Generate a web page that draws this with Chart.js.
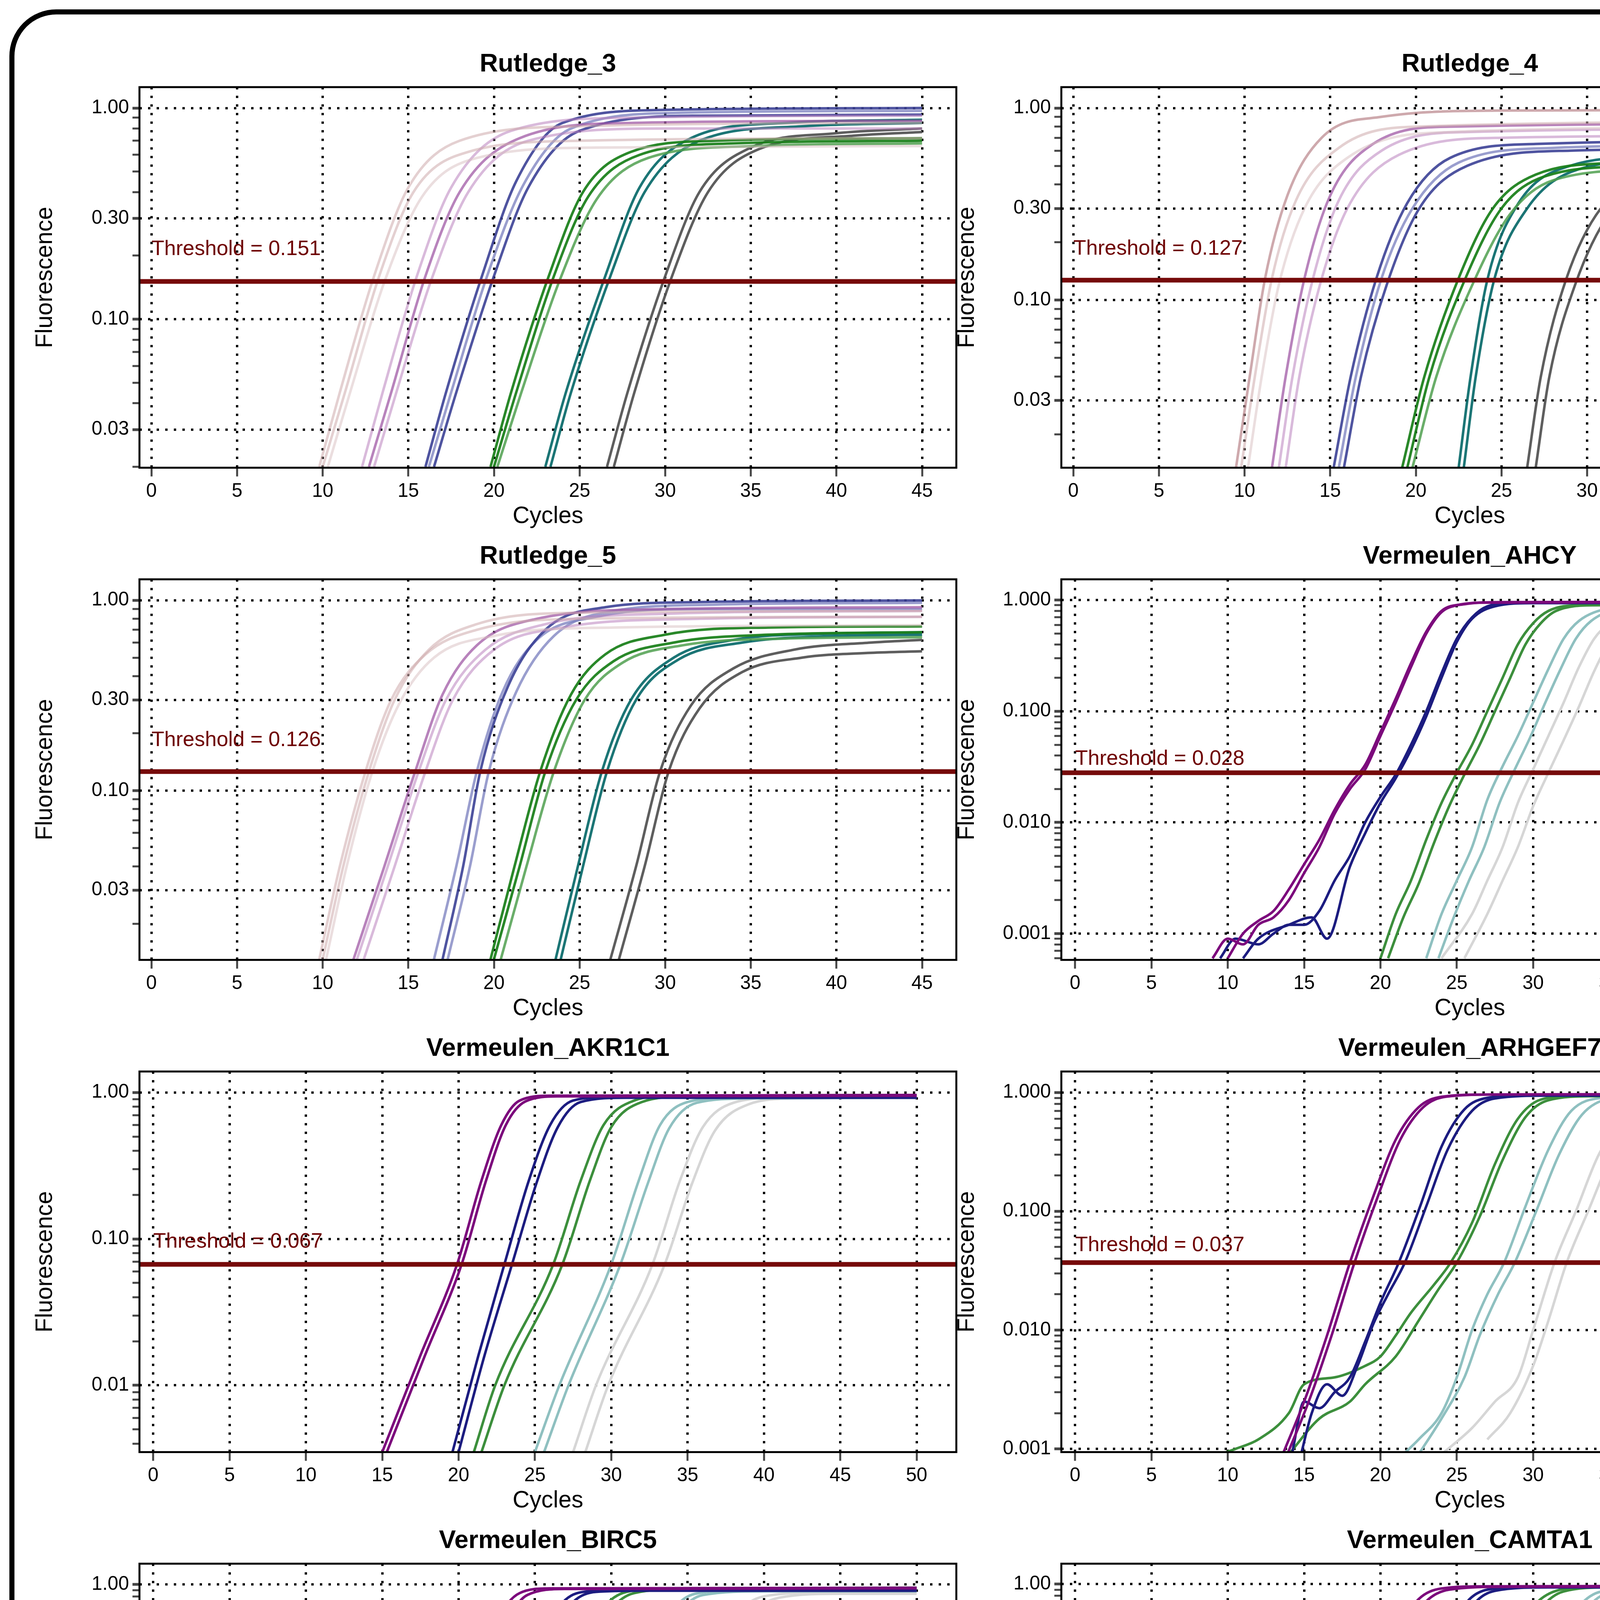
<!DOCTYPE html>
<html><head><meta charset="utf-8">
<script src="https://cdn.jsdelivr.net/npm/chart.js@4.4.1/dist/chart.umd.min.js"></script>
<style>
html,body{margin:0;padding:0;background:#fff;}
body{width:4960px;height:7016px;position:relative;overflow:hidden;}
#frame{position:absolute;left:24px;top:24px;width:4890px;height:6940px;border:13px solid #000;border-radius:120px;box-sizing:border-box;}
canvas{position:absolute;}
#rule{position:absolute;left:180px;top:6512px;width:4585px;height:10px;background:#000;}
#cap{position:absolute;left:182px;top:6548px;font-family:"DejaVu Sans",Verdana,sans-serif;font-size:70px;line-height:105px;white-space:nowrap;color:#000;}
</style></head><body>
<div id="frame"></div>
<div id="rule"></div>
<div id="cap"><b>Supplementary Fig 2 | Graphical representation of Dilution Curves (11-20).</b> Each box represents the<br>fluorescence data (y-axis) plotted against the cycle number (x-axis) with a horizontal line representing the<br>threshold value.</div>
<script>
// ---------------- DATA ----------------
const titles = ["Rutledge_3","Rutledge_4","Rutledge_5","Vermeulen_AHCY","Vermeulen_AKR1C1","Vermeulen_ARHGEF7","Vermeulen_BIRC5","Vermeulen_CAMTA1","Vermeulen_CAMTA2","Vermeulen_CD44"];
const thresholds = [0.151,0.127,0.126,0.028,0.067,0.037,0.04,0.037,0.043,0.077];
const thresholdLabels = ["0.151","0.127","0.126","0.028","0.067","0.037","0.04","0.037","0.043","0.077"];
const xMaxCycle = [45,45,45,50,50,50,50,50,50,50];
const xTickValues45 = [0,5,10,15,20,25,30,35,40,45];
const xTickValues50 = [0,5,10,15,20,25,30,35,40,45,50];
const yTickValues = [[1,0.3,0.1,0.03],[1,0.3,0.1,0.03],[1,0.3,0.1,0.03],[1,0.1,0.01,0.001],[1,0.1,0.01],[1,0.1,0.01,0.001],[1,0.1,0.01],[1,0.1,0.01],[1,0.1,0.01],[1,0.1,0.01]];
const yTickLabels = [["1.00","0.30","0.10","0.03"],["1.00","0.30","0.10","0.03"],["1.00","0.30","0.10","0.03"],["1.000","0.100","0.010","0.001"],["1.00","0.10","0.01"],["1.000","0.100","0.010","0.001"],["1.00","0.10","0.01"],["1.00","0.10","0.01"],["1.00","0.10","0.01"],["1.00","0.10","0.01"]];
const yMin = [0.0198,0.0134,0.0129,0.00058,0.0035,0.00094,0.00114,0.00101,0.00134,0.00458];
const yMax = [1.256,1.285,1.29,1.54,1.39,1.5,1.48,1.48,1.47,1.37];
// curves: [colourIndex, x,y,x,y,...]
const curvesR3 = [
 [0,[9.8,.02,11,.045,13,.16,15,.42,18,.7,25,.82,45,.85]],
 [0,[10,.02,11.3,.045,13.3,.16,15.3,.4,18.5,.62,25,.7,45,.72]],
 [1,[10.3,.02,11.6,.045,13.6,.15,15.8,.38,19,.58,26,.65,45,.66]],
 [2,[12.3,.02,13.5,.045,15.5,.16,17.5,.42,21,.78,28,.9,45,.92]],
 [3,[12.7,.02,14,.045,16,.16,18,.4,21.5,.72,28,.85,45,.87]],
 [2,[13,.02,14.3,.045,16.3,.15,18.5,.4,22,.7,30,.8,45,.8]],
 [4,[16,.02,17.2,.045,19.3,.16,21.3,.45,24,.85,30,.98,45,1.0]],
 [5,[16.2,.02,17.5,.045,19.6,.16,21.7,.43,24.5,.8,31,.95,45,.97]],
 [4,[16.5,.02,17.8,.045,20,.16,22,.42,25,.78,32,.92,45,.93]],
 [6,[19.8,.02,21,.045,23.2,.16,25.2,.4,28,.62,33,.7,45,.72]],
 [6,[20,.02,21.3,.045,23.5,.16,25.5,.38,28.5,.6,34,.68,45,.7]],
 [7,[20.2,.02,21.6,.045,23.8,.15,26,.37,29,.58,35,.66,45,.68]],
 [8,[23,.02,24.2,.045,26.5,.16,28.5,.42,31.5,.72,37,.85,45,.88]],
 [8,[23.3,.02,24.5,.045,26.8,.16,28.8,.4,32,.7,38,.82,45,.85]],
 [9,[26.6,.02,27.8,.045,30,.16,32,.4,35,.65,40,.76,45,.8]],
 [9,[27,.02,28.2,.045,30.4,.16,32.5,.4,35.5,.64,41,.74,45,.77]]
];
const curvesR4 = [
 [10,[9.5,.0134,10.3,.04,11.2,.13,12.5,.35,14.5,.7,18,.9,25,.97,45,.98]],
 [0,[9.8,.0134,10.6,.04,11.6,.13,13,.33,15.5,.62,20,.8,45,.85]],
 [1,[10.2,.0134,11,.04,12,.12,13.5,.3,16,.55,22,.75,45,.8]],
 [3,[11.6,.0134,12.4,.04,13.5,.13,15,.35,17.5,.65,22,.8,45,.83]],
 [2,[12,.0134,12.8,.04,14,.13,15.5,.33,18,.6,23,.75,45,.78]],
 [2,[12.4,.0134,13.2,.04,14.4,.12,16,.3,19,.57,25,.7,45,.72]],
 [4,[15.2,.0134,16.2,.04,17.7,.13,19.5,.32,22,.55,27,.65,45,.68]],
 [5,[15.5,.0134,16.5,.04,18,.13,19.8,.3,22.5,.52,28,.62,45,.65]],
 [4,[15.8,.0134,16.8,.04,18.3,.12,20.2,.3,23,.5,29,.6,45,.62]],
 [6,[19.2,.0134,20.5,.04,22.5,.13,24.5,.3,27,.45,32,.52,45,.55]],
 [6,[19.5,.0134,20.8,.04,22.9,.13,25,.3,27.5,.44,33,.5,45,.52]],
 [7,[19.8,.0134,21.2,.04,23.3,.12,25.5,.28,28,.42,34,.48,45,.5]],
 [8,[22.5,.0134,23.2,.04,24.2,.13,26,.32,29,.5,34,.56,45,.58]],
 [8,[22.8,.0134,23.5,.04,24.6,.13,26.5,.3,29.5,.48,35,.54,45,.56]],
 [9,[26.5,.0134,27.3,.04,28.8,.13,30.8,.3,33.5,.42,38,.48,45,.5]],
 [9,[27,.0134,27.8,.04,29.3,.12,31.3,.28,34,.4,39,.46,45,.48]]
];
const curvesR5 = [
 [0,[9.8,.013,11,.04,12.5,.126,14,.3,16,.52,19,.7,25,.8,45,.82]],
 [1,[10.2,.013,11.4,.04,12.9,.126,14.5,.29,16.5,.5,20,.65,27,.72,45,.74]],
 [0,[10,.013,11.2,.04,12.7,.126,14.2,.3,16.2,.55,19,.75,25,.86,45,.88]],
 [2,[12,.013,13.8,.04,15.6,.126,17.2,.3,19.5,.55,23,.75,30,.85,45,.88]],
 [2,[12.4,.013,14.2,.04,16,.126,17.6,.3,20,.55,24,.72,32,.8,45,.82]],
 [3,[11.8,.013,13.6,.04,15.4,.126,17,.32,19,.58,22.5,.8,30,.9,45,.92]],
 [4,[17,.013,18.2,.04,19.2,.126,20.8,.35,23,.7,26.5,.92,32,.98,45,1.0]],
 [5,[17.3,.013,18.6,.04,19.7,.126,21.3,.33,23.5,.65,27,.88,33,.95,45,.97]],
 [5,[16.5,.013,17.8,.04,19,.126,20.5,.33,22.5,.62,26,.82,32,.9,45,.9]],
 [6,[20,.013,21.5,.04,23,.126,24.8,.3,27,.48,30.5,.6,36,.66,45,.68]],
 [7,[20.4,.013,21.9,.04,23.5,.126,25.3,.3,27.5,.47,31,.58,37,.63,45,.64]],
 [6,[19.8,.013,21.2,.04,22.7,.126,24.5,.32,26.5,.52,30,.66,36,.72,45,.73]],
 [8,[23.6,.013,24.9,.04,26.3,.126,28,.3,30.5,.5,34,.62,40,.67,45,.68]],
 [8,[23.9,.013,25.2,.04,26.6,.126,28.3,.3,30.8,.49,34.5,.6,40,.65,45,.66]],
 [9,[26.8,.013,28.3,.04,29.7,.126,31.5,.28,34,.44,37.5,.55,42,.6,45,.62]],
 [9,[27.3,.013,28.8,.04,30.2,.126,32,.27,34.5,.42,38,.5,42,.53,45,.54]]
];
const curvesAHCY = [
 [11,[9,.0006,10,.0009,11,.0008,12,.0012,13,.0014,14,.002,15,.0035,16,.006,17,.012,18,.02,19,.03,20,.06,21,.12,22,.25,23,.5,24,.78,25,.9,27,.95,50,.96]],
 [11,[10,.0006,11,.001,12,.0013,13,.0016,14,.0025,15,.0042,16,.007,17,.013,18,.022,19,.033,20,.065,21,.13,22,.27,23,.52,24,.8,25.5,.92,28,.96,50,.97]],
 [12,[9.5,.0006,10.5,.0009,12,.0008,13,.001,14,.0012,15,.0012,16,.0016,17,.003,18,.005,19,.01,20,.017,21,.027,22,.05,23,.1,24,.22,25,.45,26,.7,27,.88,29,.95,50,.95]],
 [12,[11,.0006,12,.0009,14,.0012,15.5,.0014,16.5,.0009,18,.004,19,.008,20,.015,21,.025,22,.045,23,.09,24,.2,25,.42,26,.68,27.5,.88,30,.94,50,.94]],
 [13,[20,.0006,21,.0015,22,.003,23,.007,24,.015,25,.028,26,.05,27,.1,28,.2,29,.4,30,.62,31,.8,33,.9,50,.93]],
 [13,[20.5,.0006,21.5,.0014,22.5,.0028,23.5,.0065,24.5,.014,25.5,.027,26.5,.05,27.5,.1,28.5,.2,29.5,.4,30.5,.62,31.5,.8,34,.9,50,.92]],
 [14,[23,.0006,24,.0015,25,.003,26,.006,27,.016,28,.032,29,.06,30,.12,31,.24,32,.45,33,.65,35,.85,38,.92,50,.93]],
 [14,[23.8,.0006,24.8,.0014,25.8,.003,26.8,.006,27.8,.015,28.8,.03,29.8,.058,30.8,.12,31.8,.24,32.8,.45,33.8,.65,35.8,.85,39,.92,50,.93]],
 [15,[24,.0006,26,.0015,27,.003,28,.006,29,.015,30,.03,31,.06,32,.12,33,.25,34,.45,35,.62,37,.82,40,.9,50,.92]],
 [15,[25.5,.0006,27,.0015,28,.003,29,.006,30,.014,31,.028,32,.055,33,.11,34,.23,35,.42,36,.6,38,.8,41,.89,50,.91]]
];
const curvesAKR1C1 = [
 [11,[15,.0035,17.5,.016,19.9,.067,21.5,.25,22.8,.6,24,.88,26,.95,50,.96]],
 [11,[15.3,.0035,17.8,.016,20.2,.067,21.8,.25,23.1,.6,24.4,.87,26.5,.94,50,.95]],
 [12,[19.6,.0035,21.3,.016,23,.067,24.6,.25,26,.6,27.5,.88,30,.93,50,.93]],
 [12,[20,.0035,21.7,.016,23.5,.067,25.1,.24,26.5,.58,28,.86,31,.92,50,.92]],
 [13,[21,.0035,22.4,.01,26.2,.067,28,.25,29.5,.6,31.5,.88,34,.95,50,.96]],
 [13,[21.5,.0035,23,.01,26.8,.067,28.6,.25,30,.58,32,.86,35,.94,50,.95]],
 [14,[25,.0035,26.6,.01,30,.067,31.8,.25,33.2,.6,35,.86,38,.92,50,.93]],
 [14,[25.6,.0035,27.2,.01,30.6,.067,32.4,.24,33.8,.57,35.6,.85,39,.91,50,.92]],
 [15,[27.5,.0035,29,.01,32.7,.067,34.5,.25,36,.58,38,.85,41,.92,50,.93]],
 [15,[28.3,.0035,29.8,.01,33.5,.067,35.3,.24,36.8,.55,39,.83,42,.91,50,.92]]
];
const curvesARHGEF7 = [
 [11,[13.6,.0009,15,.0025,16.5,.009,18,.037,19.5,.13,21,.4,22.5,.75,24,.92,27,.96,50,.97]],
 [11,[13.9,.0009,15.3,.0025,16.8,.009,18.3,.037,19.8,.13,21.3,.4,22.8,.75,24.3,.92,27.5,.96,50,.97]],
 [12,[14.2,.0009,15,.0025,16,.0022,17,.003,18,.004,19,.008,20,.017,21.2,.037,22.6,.11,24,.35,25.5,.72,27,.9,30,.95,50,.95]],
 [12,[14.8,.0009,15.5,.002,16.5,.0035,17.5,.0028,18.5,.005,19.5,.011,20.5,.02,21.6,.037,23,.11,24.4,.33,26,.7,27.5,.89,31,.94,50,.94]],
 [13,[9.5,.0009,10.5,.001,12,.0012,14,.002,15,.0035,17,.004,19,.005,20,.006,21,.009,22,.014,23.5,.024,24.6,.037,26,.08,27.5,.25,29,.6,30.5,.87,33,.94,50,.95]],
 [13,[14,.0009,16,.0018,18,.0025,19,.0035,21,.006,22.5,.012,23.8,.022,25,.037,26.5,.09,28,.27,29.5,.62,31,.86,34,.93,50,.94]],
 [14,[21.5,.0009,22.5,.0012,24,.002,25,.004,26,.01,27,.02,28.1,.037,29.5,.11,31,.33,32.5,.7,34.5,.9,38,.94,50,.95]],
 [14,[22.5,.0009,24,.0018,25.5,.004,26.5,.009,27.7,.02,28.8,.037,30.2,.1,31.7,.3,33.2,.65,35,.88,39,.93,50,.94]],
 [15,[24,.0009,26,.0015,27.5,.0025,29,.004,30,.01,31.4,.037,32.8,.1,34.3,.3,36,.62,38,.85,41,.93,50,.94]],
 [15,[27,.0012,28.5,.002,30,.005,31,.012,32.2,.037,33.6,.1,35.2,.3,37,.6,39,.83,42,.92,50,.93]]
];
const curvesBIRC5 = [
 [11,[14.3,.0011,16,.004,17.7,.014,19.4,.04,21,.15,22.5,.5,24,.85,26,.93,50,.94]],
 [11,[15,.0011,16.7,.004,18.4,.014,20,.04,21.5,.14,23,.45,24.5,.82,27,.92,50,.93]],
 [12,[13.5,.0011,14.5,.0015,15.5,.0013,17,.0025,18,.0035,19,.002,20,.004,21,.012,22,.025,22.8,.04,24,.12,25.5,.4,27,.75,28.5,.88,31,.9,50,.9]],
 [12,[15,.0011,16.5,.0018,18,.0015,19.5,.003,20.5,.006,21.5,.015,22.5,.03,23.3,.04,24.5,.12,26,.38,27.5,.72,29,.87,32,.89,50,.89]],
 [13,[14.5,.0011,16,.0015,18,.0016,20,.0017,21,.002,22,.0028,23,.006,24,.018,25.3,.04,26.5,.1,28,.3,29.5,.65,31,.87,34,.93,50,.94]],
 [13,[16.5,.0011,18,.0014,20,.0015,22,.002,23,.004,24.5,.02,25.8,.04,27,.1,28.5,.3,30,.63,31.5,.85,35,.92,50,.93]],
 [14,[22,.0011,24,.0014,26,.0018,27,.004,28,.012,29,.025,29.8,.04,31,.1,32.5,.3,34,.62,35.5,.84,39,.9,50,.9]],
 [14,[25,.0011,27,.002,28.5,.01,29.5,.025,30.4,.04,31.6,.1,33,.28,34.5,.6,36,.82,40,.88,50,.88]],
 [15,[23,.0011,26,.0015,29,.0025,30.5,.006,32,.02,33.3,.04,34.8,.1,36.5,.28,38,.55,40,.8,44,.86,50,.86]],
 [15,[27,.0011,30,.002,32,.008,33,.02,34,.04,35.5,.1,37,.27,38.7,.53,41,.78,45,.84,50,.84]]
];
const curvesCAMTA1 = [
 [11,[13.7,.001,15.2,.0035,16.7,.012,18,.037,19.5,.13,21,.4,22.5,.75,24,.92,27,.96,50,.97]],
 [11,[14.2,.001,15.7,.0035,17.2,.012,18.5,.037,20,.13,21.5,.38,23,.72,24.5,.9,28,.95,50,.96]],
 [12,[14.5,.001,15.5,.0015,16.5,.0012,17.5,.002,18.5,.0015,19.5,.005,20.5,.018,21.5,.037,22.8,.11,24.2,.35,25.7,.72,27,.9,30,.95,50,.95]],
 [12,[15.5,.001,16.5,.0018,18,.0025,19,.003,20,.008,21,.02,22,.037,23.3,.11,24.7,.33,26.2,.7,27.5,.88,31,.94,50,.94]],
 [13,[19.4,.001,21,.003,22.5,.007,24,.017,25.6,.037,27,.1,28.5,.3,30,.65,31.5,.88,34,.95,50,.96]],
 [13,[20,.001,21.5,.0025,23,.006,24.5,.015,26.2,.037,27.6,.1,29,.3,30.5,.63,32,.87,35,.94,50,.95]],
 [14,[20.6,.001,22.5,.0015,24,.002,25.5,.003,26.5,.006,27.7,.018,28.7,.037,30,.1,31.5,.3,33,.65,34.5,.87,38,.93,50,.94]],
 [14,[23,.001,25,.002,26.5,.004,27.5,.01,28.5,.022,29.3,.037,30.6,.1,32,.28,33.5,.62,35,.85,39,.92,50,.93]],
 [15,[25,.001,27,.002,29,.005,30.5,.014,32.2,.037,33.7,.1,35.2,.3,37,.62,39,.86,42,.93,50,.94]],
 [15,[26.5,.001,28.5,.0025,30,.007,31.5,.02,32.8,.037,34.3,.1,36,.3,37.8,.6,40,.84,43,.92,50,.93]]
];
const curvesCAMTA2 = [
 [11,[12.2,.0013,13,.002,14.5,.003,16,.006,17.5,.018,18.8,.043,20.3,.15,21.8,.45,23.2,.8,25,.93,28,.96,50,.96]],
 [11,[13.5,.0013,15,.003,16.5,.008,17.8,.02,19.2,.043,20.7,.14,22.2,.42,23.6,.78,25.5,.92,29,.95,50,.95]],
 [12,[13.9,.0013,15.5,.002,17,.002,18.5,.003,19.5,.007,20.8,.02,22,.043,23.5,.14,25,.42,26.5,.78,28,.9,31,.92,50,.92]],
 [12,[14.5,.0013,16,.0016,18,.0025,19.5,.005,21,.018,22.4,.043,23.9,.13,25.4,.4,26.9,.76,28.5,.89,32,.91,50,.91]],
 [13,[15,.0013,17,.0015,19,.0017,20.5,.0016,22,.003,23,.008,24.2,.02,25.3,.043,26.7,.12,28.2,.35,29.7,.7,31.5,.9,35,.95,50,.96]],
 [13,[18,.0013,20,.0018,22,.002,23.5,.008,24.8,.025,25.8,.043,27.2,.12,28.7,.34,30.2,.68,32,.88,36,.94,50,.95]],
 [14,[18,.0013,20,.0018,22,.0015,24,.002,26,.0025,27,.006,28.2,.02,29.3,.043,30.8,.11,32.3,.3,34,.55,35.5,.7,40,.75,50,.76]],
 [14,[22,.0013,25,.002,27.5,.006,28.8,.02,29.9,.043,31.4,.11,32.9,.3,34.5,.55,36.5,.72,42,.76,50,.77]],
 [15,[22,.0013,25,.0018,28,.003,30,.006,31.3,.018,32.7,.043,34.2,.11,35.8,.3,37.5,.6,39.5,.8,43,.86,50,.87]],
 [15,[27,.0013,29.5,.003,31,.008,32.2,.02,33.4,.043,34.9,.11,36.5,.3,38.2,.58,40.3,.79,44,.85,50,.86]]
];
const curvesCD44 = [
 [11,[14.2,.0046,16,.0105,18,.03,19.8,.077,21.3,.2,22.8,.5,24.3,.82,26,.93,30,.96,50,.97]],
 [11,[14.7,.0046,16.5,.0105,18.5,.03,20.3,.077,21.8,.2,23.3,.48,24.8,.8,26.5,.92,31,.95,50,.96]],
 [12,[18.3,.0046,20,.0105,22,.03,23.8,.077,25.2,.2,26.6,.5,28,.82,29.5,.92,33,.94,50,.94]],
 [12,[18.8,.0046,20.5,.0105,22.5,.03,24.3,.077,25.7,.2,27.1,.48,28.5,.8,30,.91,34,.93,50,.93]],
 [13,[20.6,.0046,22.5,.0105,24.8,.03,27,.077,28.5,.2,30,.5,31.5,.8,33,.9,37,.93,50,.94]],
 [13,[21.2,.0046,23.1,.0105,25.4,.03,27.6,.077,29.1,.2,30.6,.48,32.1,.78,33.6,.89,38,.92,50,.93]],
 [14,[22.3,.0046,24,.0055,25.5,.006,26.5,.0075,27.5,.012,29,.035,30.4,.077,31.9,.2,33.4,.5,35,.8,36.5,.88,40,.9,50,.91]],
 [14,[23.5,.0046,25.5,.007,27,.01,28.5,.02,29.8,.045,31,.077,32.5,.2,34,.48,35.5,.78,37,.87,41,.89,50,.9]],
 [15,[24.6,.0046,26.5,.0055,28,.0055,29.5,.008,31,.014,32.5,.03,34.5,.077,36,.2,37.5,.45,39,.68,41,.8,45,.85,50,.85]],
 [15,[28,.0046,30,.007,31.5,.012,33,.03,35.2,.077,36.7,.19,38.2,.42,40,.66,42,.78,46,.83,50,.84]]
];
const panelCurves = [curvesR3,curvesR4,curvesR5,curvesAHCY,curvesAKR1C1,curvesARHGEF7,curvesBIRC5,curvesCAMTA1,curvesCAMTA2,curvesCD44];

// ---------------- STYLE ----------------
const palette = ["rgba(205,170,172,0.55)","rgba(215,190,192,0.5)","rgba(185,130,190,0.55)","rgba(160,90,165,0.75)",
 "rgba(60,65,150,0.9)","rgba(120,125,190,0.75)","rgba(30,130,30,0.95)","rgba(80,160,80,0.85)","rgba(15,110,110,0.95)","rgba(85,85,85,0.95)",
 "rgba(190,140,145,0.75)",
 "#7c0a7c","#1c1c80","#3c8f3c","#8fc0c0","#d6d6d6"];
const labelLift = [15,14.5,14.5,4.5,9.5,6.5,7.5,7.5,7.5,11.5];
const S = 4.468;
const colLeft = [80,608];
const rowTop = [50,332,614,896,1177];
const PW = 468, PH = 218;
const narrow = '"Liberation Sans Narrow","Liberation Sans",Arial,sans-serif';

const deco = {
  id:'deco',
  afterDraw(chart){
    const c = chart.ctx, a = chart.chartArea, o = chart.options.plugins.deco;
    c.save();
    c.strokeStyle = '#000'; c.lineWidth = 5;
    c.strokeRect(a.left, a.top, a.right-a.left, a.bottom-a.top);
    const y = chart.scales.y.getPixelForValue(o.thr);
    const x0 = chart.scales.x.getPixelForValue(0);
    c.fillStyle = '#6e0000';
    c.font = (12*S)+'px '+narrow;
    c.textBaseline = 'alphabetic'; c.textAlign = 'left';
    c.fillText('Threshold = '+o.lab, x0, y - o.lift*S);
    c.fillStyle = '#000';
    c.font = 'bold '+(14.5*S)+'px "Liberation Sans",Arial,sans-serif';
    c.textAlign = 'center'; c.textBaseline = 'middle';
    c.fillText(o.title, (a.left+a.right)/2, a.top - 13*S);
    c.restore();
  }
};

for (let i=0;i<10;i++){
  const col = i%2, row = Math.floor(i/2);
  const cv = document.createElement('canvas');
  const L = colLeft[col]-62, T = rowTop[row]-30;
  const W = 62+PW+6, H = 30+PH+42;
  cv.style.left = Math.round(L*S)+'px'; cv.style.top = Math.round(T*S)+'px';
  cv.style.width = Math.round(W*S)+'px'; cv.style.height = Math.round(H*S)+'px';
  cv.width = Math.round(W*S); cv.height = Math.round(H*S);
  document.body.appendChild(cv);
  const xm = xMaxCycle[i];
  const xmin = xm===45 ? -0.7 : -0.9, xmax = xm===45 ? 47 : 52.6;
  const xt = xm===45 ? xTickValues45 : xTickValues50;
  const majors = yTickValues[i];
  const labs = yTickLabels[i];
  const yt = [];
  for (let e=-4;e<=0;e++) for (let m=1;m<=9;m++){
    const v = +(m*Math.pow(10,e)).toPrecision(3);
    if (v>=yMin[i] && v<=yMax[i]) yt.push(v);
  }
  majors.forEach(v=>{ if(!yt.includes(v)) yt.push(v); });
  yt.sort((a,b)=>a-b);
  const isMajor = v => v!=null && majors.some(m=>Math.abs(m-v)/m<1e-6);
  const tv = c => (c && c.tick) ? c.tick.value : null;
  const datasets = [{
    data:[{x:-5,y:thresholds[i]},{x:60,y:thresholds[i]}],
    borderColor:'#760a0a', borderWidth:12, pointRadius:0, order:0
  }];
  panelCurves[i].forEach(cu=>{
    const p = cu[1], d=[];
    for (let k=0;k<p.length;k+=2) d.push({x:p[k],y:p[k+1]});
    datasets.push({data:d, borderColor:palette[cu[0]], borderWidth:6.5, pointRadius:0,
      cubicInterpolationMode:'monotone', order:1});
  });
  try {
  new Chart(cv,{
    type:'line',
    data:{datasets},
    options:{
      responsive:false, animation:false, devicePixelRatio:1,
      layout:{padding:{top:30*S,right:6*S,left:0,bottom:0}},
      plugins:{legend:{display:false},tooltip:{enabled:false},
        deco:{thr:thresholds[i],lab:thresholdLabels[i],title:titles[i],lift:labelLift[i]}},
      scales:{
        x:{type:'linear',min:xmin,max:xmax,
          afterBuildTicks(s){ s.ticks = xt.map(v=>({value:v})); },
          afterFit(s){ s.height = 42*S; },
          ticks:{font:{family:narrow,size:11*S},color:'#000',padding:2*S,maxRotation:0,autoSkip:false},
          grid:{color:'#000',lineWidth:6,tickBorderDash:[],tickColor:'#444',tickLength:5*S,tickWidth:5,drawOnChartArea:true},
          border:{display:false,dash:[6,16]},
          title:{display:true,text:'Cycles',font:{family:narrow,size:13.5*S},color:'#000',padding:{top:0,bottom:6*S}}
        },
        y:{type:'logarithmic',min:yMin[i],max:yMax[i],
          afterBuildTicks(s){ s.ticks = yt.map(v=>({value:v})); },
          afterFit(s){ s.width = 62*S; },
          ticks:{font:{family:narrow,size:11*S},color:'#000',padding:2*S,autoSkip:false,
            callback(v){ const k = majors.findIndex(m=>Math.abs(m-v)/m<1e-6); return k>=0?labs[k]:''; }},
          grid:{color:c=>isMajor(tv(c))?'#000':'rgba(0,0,0,0)',lineWidth:6,tickBorderDash:[],
            tickColor:'#444',tickLength:4*S,tickWidth:c=>isMajor(tv(c))?7:5},
          border:{display:false,dash:[6,16]},
          title:{display:true,text:'Fluorescence',font:{family:narrow,size:13.5*S},color:'#000',padding:{top:0,bottom:10*S}}
        }
      }
    },
    plugins:[deco]
  });
  } catch(e){ console.log(e); }
}
</script>
</body></html>
